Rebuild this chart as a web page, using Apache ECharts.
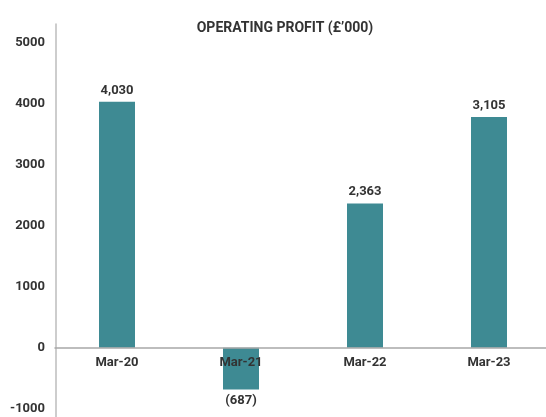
<!DOCTYPE html>
<html><head><meta charset="utf-8">
<script src="https://cdn.jsdelivr.net/npm/echarts@6/dist/echarts.min.js"></script>
<style>html,body{margin:0;padding:0;background:#fff}#c{width:546px;height:417px}</style>
</head><body><div id="c"></div>
<script>
const categories = ["Mar-20", "Mar-21", "Mar-22", "Mar-23"];
const values = [4030, -687, 2363, 3780];
const valueLabels = ["4,030", "(687)", "2,363", "3,105"];
const yTicks = [-1000, 0, 1000, 2000, 3000, 4000, 5000];
const title = "OPERATING PROFIT (£\u2019000)";

const FONT = "Roboto";
const TXT = "#333333";
const chart = echarts.init(document.getElementById('c'), null, {renderer: 'canvas'});
chart.setOption({
  animation: false,
  backgroundColor: "#ffffff",
  title: {
    text: title, left: 280, top: 16, textAlign: 'center',
    textStyle: {fontFamily: FONT, fontSize: 14, fontWeight: 'bold', color: TXT}
  },
  grid: [
    {left: 55, right: -5, top: 42.7, bottom: 8.3, containLabel: false, outerBoundsMode: 'none'},
    {left: 56, right: 0, top: 24, bottom: 0, containLabel: false, outerBoundsMode: 'none'},
    {left: 55, right: -5, top: 42.7, bottom: 69.3, containLabel: false, outerBoundsMode: 'none'}
  ],
  xAxis: [
    {type: 'category', data: categories, gridIndex: 0, show: false},
    {type: 'value', gridIndex: 1, show: false},
    {type: 'category', data: categories, gridIndex: 2, position: 'bottom', z: 10,
     axisLine: {onZero: false, lineStyle: {color: '#a8a8a8', width: 1.5}},
     axisTick: {show: false},
     axisLabel: {fontFamily: FONT, fontSize: 13, fontWeight: 'bold', color: TXT, margin: 9}}
  ],
  yAxis: [
    {type: 'value', gridIndex: 0, min: yTicks[0], max: yTicks[yTicks.length-1], interval: 1000,
     axisLine: {show: false}, axisTick: {show: false}, splitLine: {show: false},
     axisLabel: {fontFamily: FONT, fontSize: 13, fontWeight: 'bold', color: TXT, margin: 10,
                 formatter: v => String(v)}},
    {type: 'value', gridIndex: 1, min: 0, max: 1,
     axisLine: {show: true, lineStyle: {color: '#bdbdbd', width: 1.5}},
     axisTick: {show: false}, axisLabel: {show: false}, splitLine: {show: false}},
    {type: 'value', gridIndex: 2, min: 0, max: 1, show: false}
  ],
  series: [{
    type: 'bar', xAxisIndex: 0, yAxisIndex: 0, barWidth: 36, z: 2,
    itemStyle: {color: '#3e8a93'},
    data: values.map((v, i) => ({
      value: v,
      label: {show: true, position: v >= 0 ? 'top' : 'bottom', distance: 5,
              formatter: () => valueLabels[i],
              fontFamily: FONT, fontSize: 13, fontWeight: 'bold', color: TXT}
    }))
  }]
});
</script></body></html>
